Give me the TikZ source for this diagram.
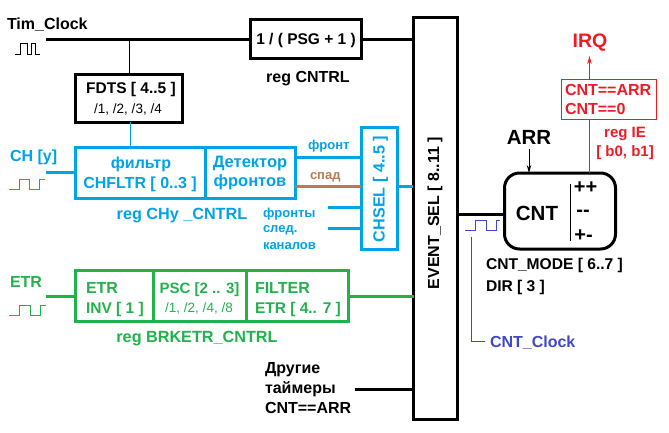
\documentclass[tikz,border=0pt]{standalone}
\usepackage{fontspec}
\setmainfont{Liberation Sans}
\usetikzlibrary{arrows.meta}
\definecolor{cblue}{HTML}{00A2E8}
\definecolor{cgreen}{HTML}{22B14C}
\definecolor{cred}{HTML}{ED1C24}
\definecolor{cbrown}{HTML}{B97A57}
\definecolor{cind}{HTML}{3F48CC}
\newcommand{\fs}[1]{\fontsize{#1}{#1}\selectfont\bfseries}
\newcommand{\fr}[1]{\fontsize{#1}{#1}\selectfont}
\tikzset{
  x=1pt,y=-1pt,
  boxn/.style={draw=#1,line width=3pt,rectangle,inner sep=0pt,outer sep=0pt},
  txt/.style={inner sep=0pt,outer sep=0pt,align=center,text=#1,font=\fs{15.5}},
  txt/.default=black,
  ltxt/.style={inner sep=0pt,outer sep=0pt,anchor=west,align=left,text=#1,font=\fs{16}},
  ltxt/.default=black,
  thick3/.style={draw=#1,line width=3pt},
  thick3/.default=black,
  thin1/.style={draw=#1,line width=1pt},
  thin1/.default=black,
  wave/.style={draw=#1,line width=1pt,line join=miter},
  sarrow/.style={-{Stealth[length=8pt,width=4.5pt]}},
}
\begin{document}
\begin{tikzpicture}
\useasboundingbox (0,0) rectangle (669,432);
% boxes
\node[boxn=black,minimum width=111pt,minimum height=39pt] (psg) at (306,38.5) {};
\node[boxn=black,minimum width=44pt,minimum height=402pt] (evsel) at (435.5,218) {};
\node[boxn=black,minimum width=107pt,minimum height=48pt] (fdts) at (129,98) {};
\node[boxn=cblue,minimum width=130pt,minimum height=51pt] (fltr) at (140,172.5) {};
\node[boxn=cblue,minimum width=90pt,minimum height=51pt] (det) at (250,172.5) {};
\node[boxn=cblue,minimum width=36pt,minimum height=122pt] (chsel) at (379,188) {};
\node[boxn=cgreen,minimum width=78pt,minimum height=51pt] (etr) at (114,296) {};
\node[boxn=cgreen,minimum width=93pt,minimum height=51pt] (psc) at (199.5,296) {};
\node[boxn=cgreen,minimum width=102pt,minimum height=51pt] (filt) at (297,296) {};
\node[boxn=black,rounded corners=15pt,minimum width=111pt,minimum height=76pt] (cnt) at (560,211) {};
\node[draw=cred,line width=1pt,inner sep=0pt,outer sep=0pt,minimum width=95pt,minimum height=40pt] (ie) at (608.5,99) {};
% free ends
\coordinate (clk) at (46,39);
\coordinate (chin) at (46,172);
\coordinate (etrin) at (46,296);
\coordinate (other) at (355,389);
\coordinate (edge1) at (328,207);
\coordinate (edge2) at (328,228);
\coordinate (irqt) at (589.5,56);
\coordinate (arrt) at (529,149);
\coordinate (ck1) at (471.5,237);
\coordinate (ck2) at (471.5,341.5);
\coordinate (ck3) at (485,341.5);
\coordinate (dv1) at (570,184);
\coordinate (dv2) at (570,241);
% connectors
\draw[thick3] (clk) -- (clk -| psg.west);
\draw[thick3] (psg.east |- clk) -- (evsel.west |- clk);
\draw[thin1] (fdts.north |- clk) -- (fdts.north);
\draw[thin1=cblue] (130,122) -- (130,147);
\draw[thick3=cblue] (chin) -- (chin -| fltr.west);
\draw[thick3=cblue] (295,157) -- (361,157);
\draw[thick3=cbrown] (295,186) -- (361,186);
\draw[thick3=cblue] (edge1) -- (edge1 -| chsel.west);
\draw[thick3=cblue] (edge2) -- (edge2 -| chsel.west);
\draw[thick3=cblue] (397,186) -- (413,186);
\draw[thick3=cgreen] (etrin) -- (etrin -| etr.west);
\draw[thick3=cgreen] (filt.east) -- (filt.east -| evsel.west);
\draw[thick3] (other) -- (other -| evsel.west);
\draw[thick3] (458,214) -- (505,214);
\draw[thin1] (dv1) -- (dv2);
\draw[thin1,sarrow] (arrt) -- (arrt |- cnt.north);
\draw[thin1=cred] (589.5,173) -- (589.5,119);
\draw[thin1=cred,sarrow] (589.5,79) -- (irqt);
\draw[thin1=cind] (ck1) -- (ck2) -- (ck3);
% waves
\draw[wave=black] (15,54)--(20,54)--(20,43.5)--(27,43.5)--(27,54)--(31,54)--(31,43.5)--(35,43.5)--(35,54)--(40,54);
\draw[wave=cblue] (9,189.5)--(19.5,189.5)--(19.5,179.5)--(29.5,179.5)--(29.5,189.5)--(39.5,189.5)--(39.5,179.5)--(45,179.5);
\draw[wave=cgreen] (9,315.5)--(19.5,315.5)--(19.5,305.5)--(30,305.5)--(30,315.5)--(40.5,315.5)--(40.5,305.5)--(46,305.5);
\draw[wave=cind] (465,230.5)--(475.5,230.5)--(475.5,220.5)--(486,220.5)--(486,230.5)--(496.5,230.5)--(496.5,220.5)--(500,220.5);
% texts
\node[ltxt] (t1) at (7,24.5) {Tim\_Clock};
\node[txt] (t2) at (306,40) {1 / ( PSG + 1 )};
\node[txt,font=\fs{16}] (t3) at (308,79) {reg CNTRL};
\node[txt] (t4) at (131,89.5) {FDTS [ 4..5 ]};
\node[txt,font=\fr{13.5}] (t5) at (128,109) {/1, /2, /3, /4};
\node[ltxt=cblue] (t6) at (10,157) {CH [y]};
\node[txt=cblue,font=\fs{16}] (t7a) at (141,164) {фильтр};
\node[txt=cblue,font=\fs{16}] (t7b) at (140,184) {CHFLTR [ 0..3 ]};
\node[txt=cblue,font=\fs{16.5}] (t8a) at (250,164) {Детектор};
\node[txt=cblue,font=\fs{16.5}] (t8b) at (250,182) {фронтов};
\node[txt=cblue,font=\fs{16.2}] (t9) at (182,215.5) {reg CHy \_CNTRL};
\node[ltxt=cblue,font=\fs{13}] (t10) at (308,146) {фронт};
\node[ltxt=cbrown,font=\fs{13}] (t11) at (310,177) {спад};
\node[ltxt=cblue,font=\fs{13}] (t12) at (263,214) {фронты};
\node[ltxt=cblue,font=\fs{13}] (t13) at (263,230) {след.};
\node[ltxt=cblue,font=\fs{13}] (t14) at (263,246) {каналов};
\node[txt=cblue,rotate=90,font=\fs{16.2}] (t15) at (380.5,189) {CHSEL [ 4..5 ]};
\node[txt,rotate=90,font=\fs{16}] (t16) at (435,213) {EVENT\_SEL [ 8..11 ]};
\node[ltxt=cgreen] (t17) at (10,282) {ETR};
\node[ltxt=cgreen] (t18) at (86,288) {ETR};
\node[ltxt=cgreen,font=\fs{15.5}] (t19) at (86,309) {INV [ 1 ]};
\node[txt=cgreen,font=\fs{15}] (t20) at (199.5,289.5) {PSC [2 .. 3]};
\node[txt=cgreen,font=\fr{13.5}] (t21) at (199,308) {/1, /2, /4, /8};
\node[ltxt=cgreen] (t22) at (255,288) {FILTER};
\node[ltxt=cgreen,font=\fs{15.5}] (t23) at (255,309) {ETR [ 4.. 7 ]};
\node[txt=cgreen,font=\fs{16.2}] (t24) at (197,339) {reg BRKETR\_CNTRL};
\node[ltxt] (t25) at (265,370) {Другие};
\node[ltxt] (t26) at (265,389.5) {таймеры};
\node[ltxt] (t27) at (265,408) {CNT==ARR};
\node[txt,font=\fs{20.5}] (t28) at (529,137) {ARR};
\node[txt,font=\fs{20.5}] (t29) at (537,213.5) {CNT};
\node[txt,font=\fs{20}] (t30) at (585.5,187.5) {++};
\node[txt,font=\fs{20}] (t31) at (583,213) {-{}-};
\node[txt,font=\fs{20}] (t32) at (583.5,235.5) {+-};
\node[txt=cred,font=\fs{19.5}] (t33) at (590,43) {IRQ};
\node[ltxt=cred] (t34) at (565,90) {CNT==ARR};
\node[ltxt=cred] (t35) at (565,109) {CNT==0};
\node[txt=cred,font=\fs{15}] (t36) at (625,133.5) {reg IE};
\node[txt=cred,font=\fs{15}] (t37) at (625,152.5) {[ b0, b1]};
\node[ltxt,font=\fs{15.6}] (t38) at (486,265.5) {CNT\_MODE [ 6..7 ]};
\node[ltxt,font=\fs{15.6}] (t39) at (486,287.5) {DIR [ 3 ]};
\node[ltxt=cind] (t40) at (490,342.5) {CNT\_Clock};
\end{tikzpicture}
\end{document}
